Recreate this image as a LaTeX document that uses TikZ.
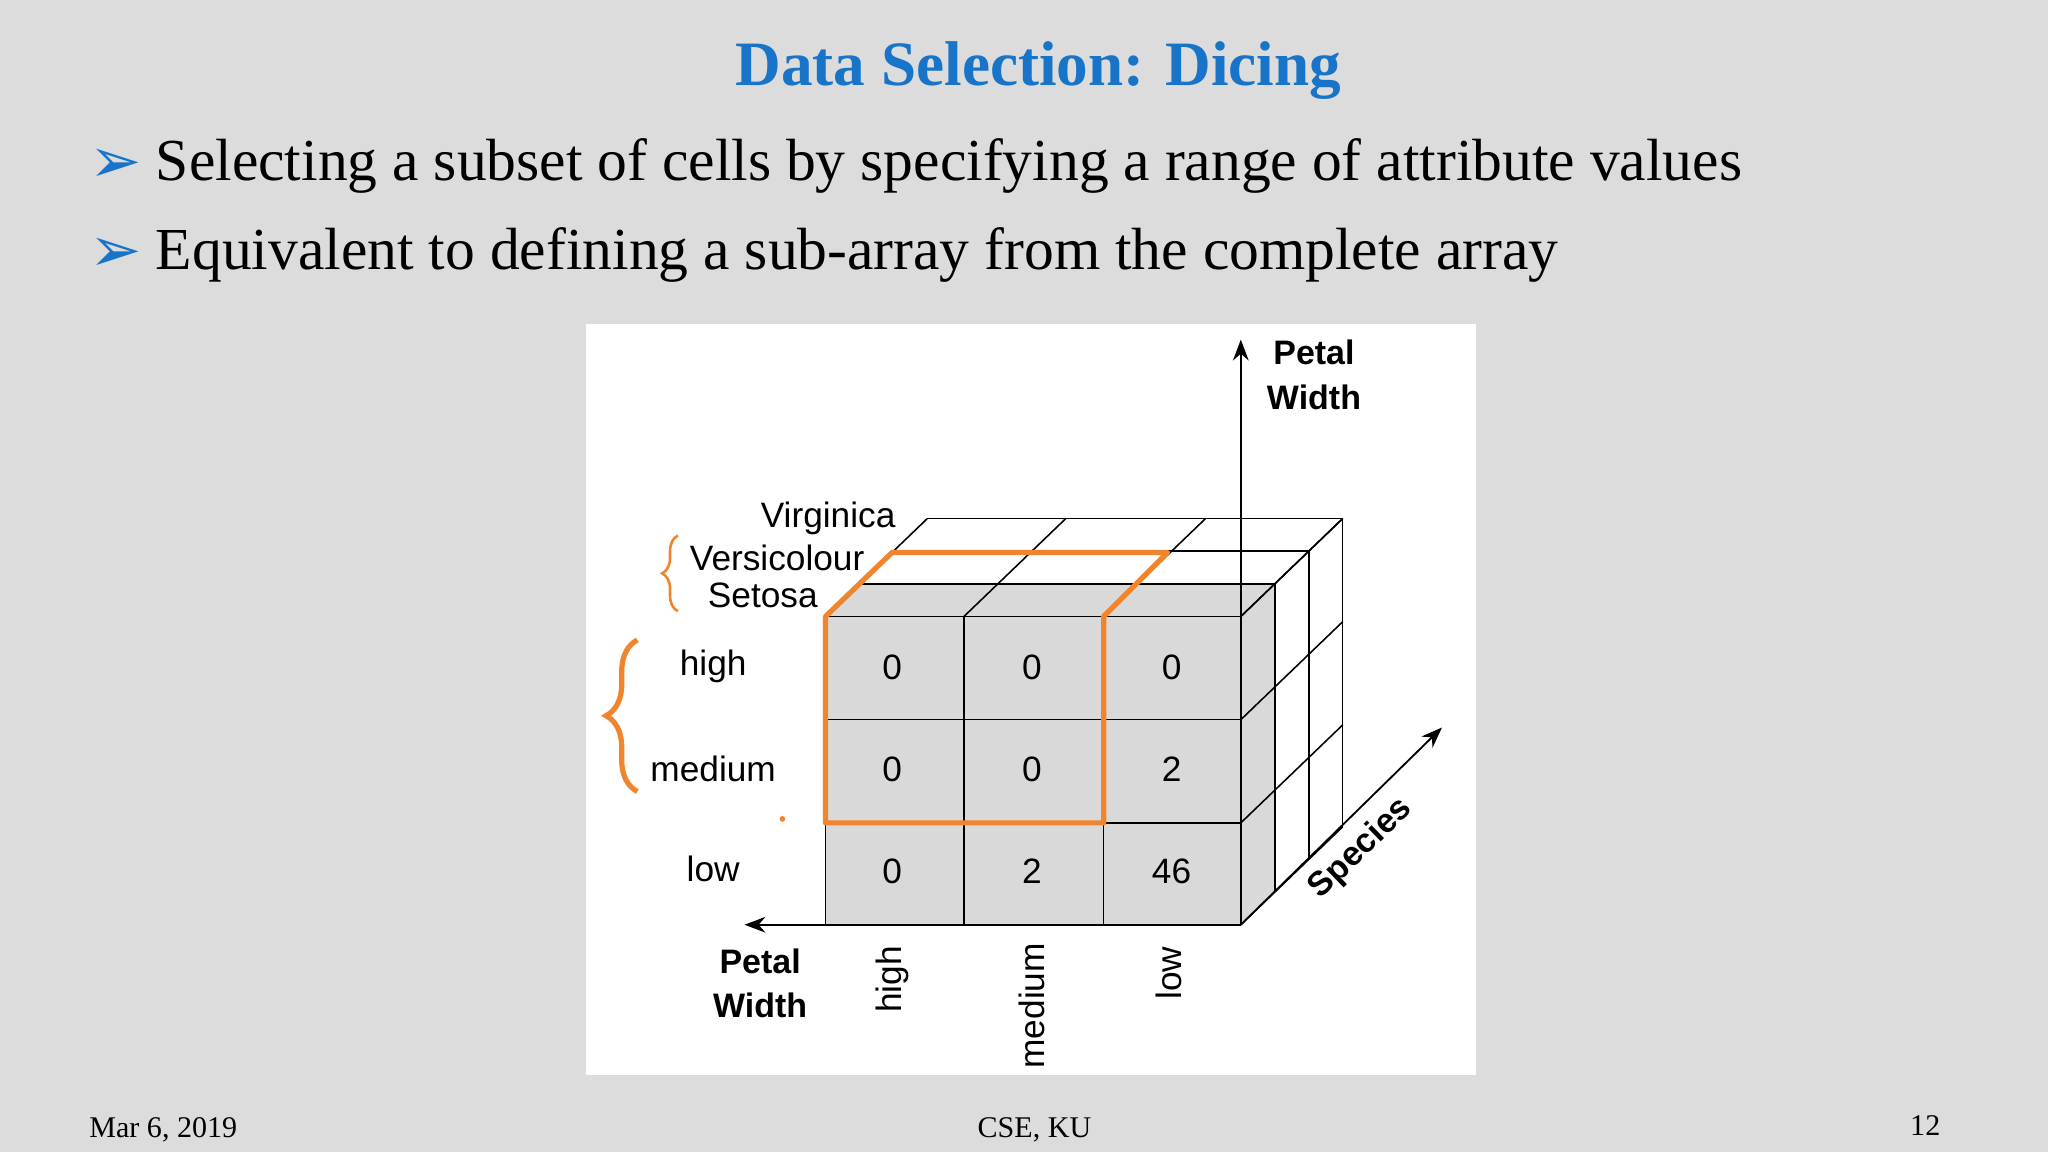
\documentclass[tikz,border=0pt]{standalone}
\usepackage{fontspec}
\setmainfont{Liberation Serif}
\newfontfamily\arial{Liberation Sans}
\newfontfamily\dejavu{DejaVu Sans}
\usetikzlibrary{decorations.pathreplacing,calc,arrows.meta}
\definecolor{bg}{HTML}{DCDCDC}
\definecolor{ttl}{HTML}{1874C8}
\definecolor{org}{HTML}{F0852D}
\definecolor{cell}{HTML}{D9D9D9}
\tikzset{
  lab/.style={font=\arial\fontsize{13.5}{15}\selectfont, inner sep=0pt},
  axlab/.style={font=\arial\bfseries\fontsize{13}{15}\selectfont, align=center, inner sep=0pt},
  bul/.style={font=\fontsize{22.8}{26}\selectfont, anchor=west, inner sep=0pt},
  foot/.style={font=\fontsize{11.5}{13}\selectfont, inner sep=0pt},
  grid/.style={line width=0.6pt, black},
  ax/.style={line width=0.7pt, -{Stealth[length=8pt,width=6pt]}},
  sel/.style={org, line width=2pt, line join=round},
}
\begin{document}
\begin{tikzpicture}[x=0.5pt,y=-0.5pt]
\fill[bg] (0,0) rectangle (1568,882);
\useasboundingbox (0,0) rectangle (1568,882);
\node[font=\bfseries\fontsize{24.2}{28}\selectfont, text=ttl] (title) at (795,54) {Data Selection: Dicing};
\node[font=\dejavu\fontsize{24}{26}\selectfont, text=ttl, inner sep=0pt] (b1) at (89,127) {➢};
\node[font=\dejavu\fontsize{24}{26}\selectfont, text=ttl, inner sep=0pt] (b2) at (89,195) {➢};
\node[bul] (t1) at (119,127) {Selecting a subset of cells by specifying a range of attribute values};
\node[bul] (t2) at (119,195) {Equivalent to defining a sub-array from the complete array};
\fill[white] (449,248) rectangle (1130,823);
% grey faces
\fill[cell] (632,472) rectangle (950,708);
\fill[cell] (632,472) -- (950,472) -- (976,447) -- (658,447) -- cycle;
\fill[cell] (950,472) -- (976,447) -- (976,683) -- (950,708) -- cycle;
% front grid
\foreach \x in {632,738,845,950} \draw[grid] (\x,472) -- (\x,708);
\foreach \y in {472,551,630,708} \draw[grid] (632,\y) -- (950,\y);
% top
\foreach \x in {632,738,845,950} \draw[grid] (\x,472) -- ++(78,-75);
\foreach \k in {1,2,3} \draw[grid] (632+26*\k,472-25*\k) -- (950+26*\k,472-25*\k);
% right
\foreach \k in {1,2,3} \draw[grid] (950+26*\k,472-25*\k) -- (950+26*\k,708-25*\k);
\foreach \y in {472,551,630,708} \draw[grid] (950,\y) -- ++(78,-75);
% axes
\coordinate (o) at (950,708);
\coordinate (up) at (950,260);
\coordinate (lf) at (570,708);
\coordinate (sp) at (1104,557);
\draw[ax] (o) -- (up);
\draw[ax] (632,708) -- (lf);
\draw[ax] (o) -- (sp);
\node[axlab] (pw1) at (1006,287) {Petal\\[2pt]Width};
\node[axlab] (pw2) at (582,753) {Petal\\[2pt]Width};
\node[axlab, rotate=44] (spc) at (1042,650) {Species};
% values
\foreach \x/\a/\b/\c in {683/0/0/0,790/0/0/2,897/0/2/46} {
  \node[lab] at (\x,511) {\a};
  \node[lab] at (\x,589) {\b};
  \node[lab] at (\x,667) {\c};
}
\node[lab] (rh) at (546,510) {high};
\node[lab] (rm) at (546,589) {medium};
\node[lab] (rl) at (546,665) {low};
\node[lab, rotate=90] (ch) at (683,750) {high};
\node[lab, rotate=90] (cm) at (790,770) {medium};
\node[lab, rotate=90] (cl) at (895,745) {low};
\node[lab] (vi) at (634,397) {Virginica};
\node[lab] (ve) at (595,427) {Versicolour};
\node[lab] (se) at (584,456) {Setosa};
% braces
\draw[org, line width=1pt, decorate, decoration={brace, amplitude=6pt}] (519,468) -- (519,410);
\draw[org, line width=2pt, decorate, decoration={brace, amplitude=12pt}] (488,606) -- (488,490);
\fill[org] (599,627) circle (2.2);
% selection
\draw[sel] (632,630) -- (632,472) -- (683,423) -- (894,423) -- (845,472) -- (845,630) -- cycle;
% footer
\node[foot] (f1) at (125,865) {Mar 6, 2019};
\node[foot] (f2) at (792,865) {CSE, KU};
\node[foot] (f3) at (1474,862) {12};
\end{tikzpicture}
\end{document}
